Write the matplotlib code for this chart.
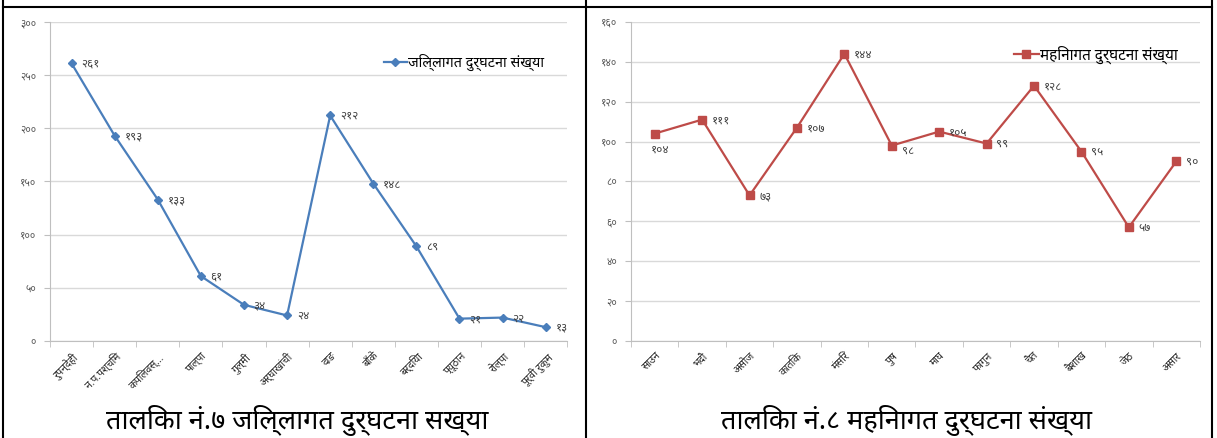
"""
Two line charts: district-wise and month-wise road accidents (Nepali)
"""
import matplotlib
matplotlib.use('Agg')
import matplotlib.pyplot as plt
from matplotlib import font_manager as fm
from matplotlib.lines import Line2D
from matplotlib.ticker import FixedLocator

# district-wise data
districts = ['रुपन्देही', 'न.प.पश्चिम', 'कपिलवस्...', 'पाल्पा', 'गुल्मी', 'अर्घाखांची',
             'दाङ', 'बाँके', 'बर्दिया', 'प्यूठान', 'रोल्पा', 'पूर्वी रुकुम']
district_counts = [261, 193, 133, 61, 34, 24, 212, 148, 89, 21, 22, 13]
district_label = 'जिल्लागत दुर्घटना संख्या'
district_caption = 'तालिका नं.७ जिल्लागत दुर्घटना सख्या'
district_yticks = [0, 50, 100, 150, 200, 250, 300]

# month-wise data
months = ['साउन', 'भदौ', 'असोज', 'कातिक', 'मंसिर', 'पुष', 'माघ', 'फागुन',
          'चैत', 'बैशाख', 'जेठ', 'असार']
month_counts = [104, 111, 73, 107, 144, 98, 105, 99, 128, 95, 57, 90]
month_label = 'महिनागत दुर्घटना संख्या'
month_caption = 'तालिका नं.८ महिनागत दुर्घटना संख्या'
month_yticks = [0, 20, 40, 60, 80, 100, 120, 140, 160]

DEVA_DIGITS = '०१२३४५६७८९'


def to_nepali(n):
    return ''.join(DEVA_DIGITS[int(c)] for c in str(n))


def find_devanagari_font():
    """Pick an installed font that has Devanagari glyphs"""
    names = sorted(set(f.name for f in fm.fontManager.ttflist))
    for want in ['Noto Sans Devanagari', 'Noto Serif Devanagari', 'Lohit Devanagari',
                 'Mukta', 'Kalimati', 'Mangal', 'FreeSans']:
        if want in names:
            return want
    for n in names:
        if 'Devanagari' in n:
            return n
    try:
        from fontTools.ttLib import TTFont
        for f in fm.fontManager.ttflist:
            try:
                cmap = TTFont(f.fname, fontNumber=0, lazy=True).getBestCmap()
                if cmap and 0x0915 in cmap and 0x0967 in cmap:
                    return f.name
            except Exception:
                continue
    except ImportError:
        pass
    return 'DejaVu Sans'


deva = find_devanagari_font()
FAMILY = [deva, 'DejaVu Sans']
plt.rcParams['font.family'] = FAMILY

GRID = '#d9d9d9'
AXIS = '#bfbfbf'
TXT = '#404040'


def draw_chart(ax, cats, vals, yticks, color, marker, msize, label, label_offsets):
    x = list(range(len(cats)))
    ax.plot(x, vals, color=color, lw=1.6, marker=marker, markersize=msize,
            markerfacecolor=color, markeredgecolor=color, label=label, zorder=3)
    for i, v in enumerate(vals):
        dx, dy = label_offsets.get(i, (7, 0))
        ax.annotate(to_nepali(v), (i, v), xytext=(dx, dy), textcoords='offset points',
                    ha='left', va='center', fontsize=8.5, color=TXT, zorder=4)
    ax.set_xlim(-0.5, len(cats) - 0.5)
    ax.set_ylim(yticks[0], yticks[-1])
    ax.set_yticks(yticks)
    ax.set_yticklabels([to_nepali(t) for t in yticks], fontsize=7.5, color='#595959')
    ax.yaxis.grid(True, color=GRID, lw=1)
    ax.set_axisbelow(True)
    ax.set_xticks(x)
    ax.set_xticklabels(cats, rotation=45, ha='right', rotation_mode='anchor',
                       fontsize=7.5, fontweight='bold', color='#262626')
    ax.tick_params(axis='x', length=0, pad=7)
    ax.xaxis.set_minor_locator(FixedLocator([i - 0.5 for i in range(len(cats) + 1)]))
    ax.tick_params(axis='x', which='minor', length=4, color=AXIS, direction='out')
    ax.tick_params(axis='y', length=4, color=AXIS, pad=6)
    for s in ['top', 'right']:
        ax.spines[s].set_visible(False)
    ax.spines['left'].set_color(AXIS)
    ax.spines['bottom'].set_color(AXIS)
    ax.set_facecolor('white')


def create_figure():
    fig = plt.figure(figsize=(12.17, 4.38), dpi=100)

    ax1 = fig.add_axes([0.0411, 0.2215, 0.425, 0.7285])
    draw_chart(ax1, districts, district_counts, district_yticks, '#4a7ebb', 'D', 4,
               district_label, {})
    ax1.legend(loc='upper right', bbox_to_anchor=(0.975, 0.93), frameon=False,
               fontsize=10.3, handlelength=1.6, handletextpad=0.1, borderpad=0.2)

    ax2 = fig.add_axes([0.5185, 0.2215, 0.4675, 0.7285])
    draw_chart(ax2, months, month_counts, month_yticks, '#be4b48', 's', 6,
               month_label, {0: (-3, -11), 5: (7, -3)})
    ax2.legend(loc='upper right', bbox_to_anchor=(0.98, 0.96), frameon=False,
               fontsize=11, handlelength=1.6, handletextpad=0.1, borderpad=0.2)

    # captions under the charts
    fig.text(0.244, 0.04, district_caption, ha='center', va='center', fontsize=19.5,
             style='italic')
    fig.text(0.745, 0.04, month_caption, ha='center', va='center', fontsize=19.5,
             style='italic')

    # table borders
    for xx in [3 / 1217, 586 / 1217, 1212 / 1217]:
        fig.add_artist(Line2D([xx, xx], [0, 1], transform=fig.transFigure,
                              color='black', lw=1.5))
    fig.add_artist(Line2D([3 / 1217, 1212 / 1217], [1 - 7 / 438, 1 - 7 / 438],
                          transform=fig.transFigure, color='black', lw=1.5))

    fig.savefig('out.png', dpi=100, facecolor='white')
    plt.close(fig)


if __name__ == '__main__':
    create_figure()
